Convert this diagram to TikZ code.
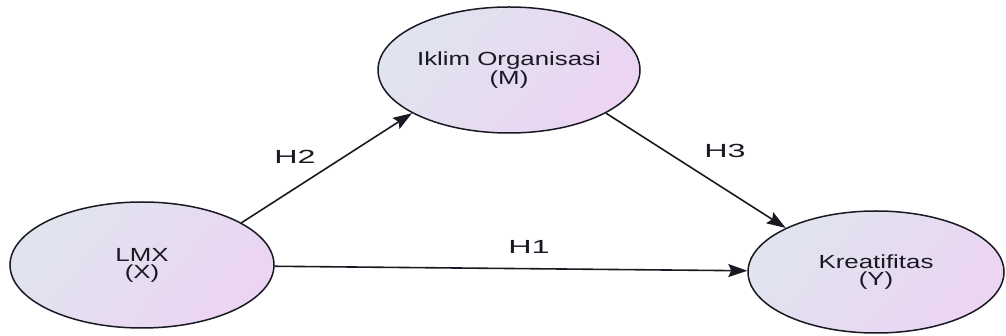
\documentclass[tikz,border=0pt]{standalone}
\usepackage{fontspec}
\usetikzlibrary{shapes.geometric,arrows.meta}
\newfontfamily\widesans[FakeStretch=1.36]{Liberation Sans}
\newfontfamily\widerlabel[FakeStretch=1.7]{Liberation Sans}
\definecolor{fillA}{RGB}{224,228,238}
\definecolor{fillB}{RGB}{236,212,243}
\definecolor{inkcol}{RGB}{25,25,35}
\tikzset{
  construct/.style={ellipse, draw=inkcol, line width=1.5pt, inner sep=0pt,
    top color=fillA, bottom color=fillB, shading angle=50,
    align=center, text=inkcol,
    font=\widesans\fontsize{19}{17}\selectfont},
  path/.style={draw=inkcol, line width=1.6pt,
    -{Stealth[length=19pt,width=13pt,inset=3pt]}},
  hyp/.style={text=inkcol, font=\widerlabel\fontsize{19}{19}\selectfont}
}
\begin{document}
\begin{tikzpicture}[x=1pt,y=-1pt]
\useasboundingbox (0,0) rectangle (1006,336);
\node[construct, minimum width=262pt, minimum height=126pt] (m) at (509,70) {Iklim Organisasi\\(M)};
\node[construct, minimum width=264pt, minimum height=126pt] (x) at (142,265) {LMX\\(X)};
\node[construct, minimum width=256pt, minimum height=122pt] (y) at (876,272) {Kreatifitas\\(Y)};
\draw[path] (x.23) -- (m.204);
\draw[path] (m.336) -- (y.154);
\draw[path] (x) -- (y);
\node[hyp] (h2) at (295,157) {H2};
\node[hyp] (h3) at (725,151) {H3};
\node[hyp] (h1) at (529,247) {H1};
\end{tikzpicture}
\end{document}
